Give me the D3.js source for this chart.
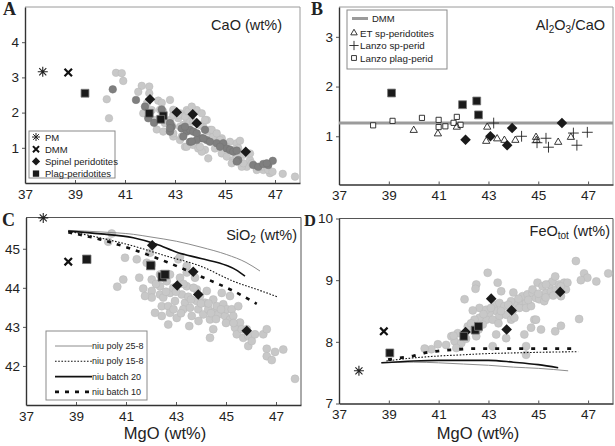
<!DOCTYPE html>
<html>
<head>
<meta charset="utf-8">
<script src="https://cdn.jsdelivr.net/npm/d3@7"></script>
<style>
  body { margin: 0; background: #fff; }
  svg text { font-family: Arial, "Liberation Sans", sans-serif; fill: #222; }
</style>
</head>
<body>
<div id="chart"></div>
<script>
//tick labels
const mgoTicks = [37, 39, 41, 43, 45, 47];
const caoTicks = [1, 2, 3, 4];
const ratioTicks = [1, 2, 3];
const sio2Ticks = [42, 43, 44, 45];
const feoTicks = [7, 8, 9, 10];

//A: CaO vs MgO  [MgO, CaO]
const caoLight = [[40.64,3.13],[40.87,3.12],[40.93,2.90],[40.27,2.38],[40.36,1.84],[41.67,2.76],[41.97,2.74],[41.53,2.59],[41.97,2.55],[41.87,2.26],[42.33,2.34],[42.47,2.28],[42.80,2.36],[41.73,1.98],[42.07,2.07],[42.20,1.79],[42.27,1.52],[42.60,1.70],[42.80,1.79],[42.93,1.93],[43.20,1.98],[42.53,1.46],[42.93,1.32],[43.47,2.07],[43.60,1.98],[43.87,2.07],[44.07,1.98],[43.47,1.84],[43.13,1.84],[43.60,1.74],[43.33,1.65],[44.27,1.79],[44.13,1.60],[44.40,1.51],[44.53,1.36],[43.20,1.22],[43.40,1.03],[43.73,1.08],[43.93,0.98],[44.20,0.94],[44.33,0.70],[44.07,0.89],[44.67,1.22],[44.87,1.27],[45.00,1.08],[45.20,1.17],[45.47,1.13],[45.60,1.20],[44.60,0.98],[44.87,0.84],[45.07,0.75],[45.33,0.65],[45.53,0.61],[45.27,0.56],[45.73,0.80],[46.00,0.65],[45.87,0.46],[45.67,0.46],[46.27,0.37],[46.53,0.37],[46.80,0.28],[46.47,0.46],[47.31,0.26],[47.80,0.18],[42.40,2.08],[42.53,2.03],[42.87,1.65],[42.93,1.41],[43.20,1.60],[43.27,1.32],[43.40,1.89],[43.53,2.03],[43.73,1.74],[44.00,1.65],[44.20,1.79],[44.33,1.46],[44.53,1.32],[44.80,1.22],[45.33,0.94],[45.53,0.99],[46.00,0.84],[46.07,0.56],[46.73,0.37],[43.47,1.03],[44.00,1.03],[42.93,2.08],[43.13,1.93],[43.67,2.17],[44.47,1.51],[44.67,1.41],[45.07,1.03],[45.47,0.75],[45.73,0.56],[46.90,0.32]];
const caoDark = [[40.51,2.66],[41.44,2.36],[41.80,2.17],[42.47,2.09],[42.16,1.71],[42.87,1.60],[42.80,1.46],[43.27,1.55],[43.47,1.46],[43.60,1.51],[43.73,1.46],[43.87,1.41],[44.20,1.51],[44.07,1.27],[43.87,1.22],[43.60,1.17],[43.33,1.32],[44.27,1.22],[44.40,1.17],[44.67,1.13],[44.93,1.13],[45.07,0.98],[45.20,0.94],[45.33,0.89],[45.47,0.92],[45.53,0.65],[46.13,0.51],[46.33,0.46],[46.53,0.54],[46.73,0.51],[46.91,0.63],[41.93,1.84],[42.80,1.70],[42.80,1.56],[43.40,1.60],[43.67,1.18],[44.13,1.27],[44.80,1.03],[45.47,0.61],[46.67,0.56]];
const caoSpinel = [[42.00,2.38],[43.07,2.01],[43.71,1.95],[43.87,1.70],[45.83,0.89]];
const caoPlag = [[39.40,2.55],[41.97,1.98],[42.53,1.91],[42.43,1.81]];
const caoPM = [[37.71,3.16]];
const caoDMM = [[38.73,3.14]];

//B: Al2O3/CaO vs MgO
const ratioDMM = 1.266;
const ratioPlag = [[39.11,1.87],[41.96,1.635],[42.53,1.71],[42.60,1.43]];
const ratioSpinel = [[42.08,0.93],[43.08,1.00],[43.75,0.82],[43.95,1.165],[45.95,1.266]];
const ratioLanzoPlag = [[38.37,1.22],[39.15,1.31],[40.33,1.37],[41.00,1.33],[41.00,1.185],[41.27,1.20],[41.60,1.27],[41.73,1.39],[41.88,1.23]];
const ratioET = [[40.00,1.12],[40.97,1.05],[41.73,1.185],[42.95,1.185],[42.91,0.90],[43.35,0.95],[43.64,0.92],[44.08,0.92],[44.91,0.98],[44.93,0.92],[45.80,0.88],[46.31,0.98]];
const ratioLanzoSp = [[43.21,1.266],[44.33,1.00],[44.95,0.87],[45.31,0.96],[45.41,0.78],[46.41,1.065],[46.55,0.82],[46.97,1.08]];

//C: SiO2 vs MgO
const sio2Light = [[40.43,45.39],[40.29,45.18],[40.96,44.77],[40.65,44.03],[40.89,44.21],[41.53,44.26],[41.69,43.98],[41.96,44.90],[42.03,44.60],[42.03,44.21],[42.03,43.92],[42.03,43.75],[42.36,44.34],[42.36,44.04],[42.36,43.83],[42.43,43.53],[42.43,43.28],[42.49,43.75],[42.63,44.17],[42.76,44.34],[42.76,43.87],[42.69,43.53],[42.76,43.36],[42.69,43.06],[42.89,44.00],[42.96,43.66],[43.09,44.73],[43.03,43.23],[43.16,44.26],[43.23,43.83],[43.36,43.62],[43.29,43.45],[43.43,44.04],[43.43,44.39],[43.49,43.77],[43.56,43.49],[43.63,43.28],[43.53,43.02],[43.76,44.26],[43.83,43.96],[43.83,43.66],[43.89,43.45],[43.96,43.79],[44.09,43.32],[44.16,43.62],[44.23,43.92],[44.29,43.45],[44.36,43.19],[44.49,43.70],[44.56,43.40],[44.63,43.53],[44.69,43.32],[44.83,43.87],[44.89,43.58],[44.96,43.28],[45.03,43.45],[45.16,43.19],[45.23,43.45],[45.29,43.28],[45.36,42.98],[45.43,42.81],[45.49,43.53],[45.56,43.11],[45.63,42.94],[45.69,42.72],[45.83,42.94],[45.89,42.77],[45.89,42.51],[46.03,42.64],[46.16,42.81],[46.49,42.81],[46.63,42.94],[46.63,42.44],[46.63,42.25],[46.83,42.15],[46.96,42.36],[47.29,42.42],[47.76,41.67],[44.49,42.94],[44.36,42.72],[45.16,43.79],[41.76,43.79],[42.16,43.36],[41.83,44.64],[41.43,44.73],[43.16,44.79],[43.43,44.56],[42.20,44.10],[42.60,43.90],[43.00,43.90],[43.30,44.10],[43.60,43.70],[43.70,44.00],[44.00,43.60],[44.30,43.60],[44.40,43.35],[44.80,43.45],[45.00,43.10],[45.30,43.10],[43.20,43.35],[42.90,43.45],[43.90,43.15],[44.60,43.20]];
const sio2Spinel = [[42.05,45.09],[43.05,44.06],[43.69,44.41],[43.89,43.83],[45.83,42.90]];
const sio2Plag = [[39.43,44.73],[41.99,44.57],[42.45,44.28],[42.56,44.34]];
const sio2PM = [[37.69,45.79]];
const sio2DMM = [[38.69,44.67]];
const sio2Poly25 = [[38.69,45.47],[40.00,45.43],[41.29,45.37],[42.00,45.30],[43.03,45.19],[44.00,45.04],[45.03,44.85],[45.80,44.65],[46.36,44.43]];
const sio2Poly15 = [[38.69,45.45],[39.96,45.28],[41.29,45.07],[42.63,44.81],[43.96,44.56],[45.29,44.17],[46.63,43.87],[47.09,43.76]];
const sio2Batch20 = [[38.69,45.45],[40.00,45.38],[41.29,45.28],[42.20,45.12],[43.03,44.91],[44.00,44.75],[45.03,44.57],[45.40,44.46],[45.76,44.30]];
const sio2Batch10 = [[38.69,45.42],[39.96,45.24],[41.29,44.98],[42.63,44.66],[43.96,44.30],[45.29,43.92],[46.23,43.59]];

//D: FeOtot vs MgO
const feoLight = [[42.04,8.69],[43.24,8.60],[43.44,8.63],[43.64,8.58],[43.31,8.50],[43.04,8.47],[42.64,8.55],[42.37,8.51],[42.91,8.36],[42.64,8.39],[42.44,8.36],[42.77,8.28],[43.17,8.36],[43.44,8.42],[43.71,8.44],[43.97,8.50],[44.11,8.63],[44.31,8.66],[44.51,8.63],[44.37,8.74],[44.57,8.77],[44.77,8.79],[44.91,8.71],[44.77,8.85],[45.04,8.69],[45.24,8.66],[45.31,8.79],[45.51,8.82],[45.71,8.85],[45.44,8.93],[45.57,8.98],[45.84,8.93],[46.04,8.96],[46.11,8.85],[45.91,8.74],[44.24,8.55],[43.91,8.36],[44.04,8.39],[44.51,8.55],[44.71,8.58],[44.84,8.36],[44.71,8.23],[45.11,8.20],[45.68,8.17],[45.91,8.26],[46.64,8.37],[43.31,8.12],[43.71,8.06],[44.44,8.12],[44.51,7.93],[44.51,7.79],[43.17,7.93],[42.37,8.20],[42.51,8.09],[41.77,8.14],[41.64,8.01],[41.91,7.98],[41.71,7.90],[40.97,7.96],[40.71,7.88],[40.44,7.89],[41.51,8.09],[42.17,8.25],[42.91,8.52],[43.91,8.66],[44.97,8.96],[45.17,8.90],[45.31,8.93],[46.17,8.96],[46.84,9.11],[46.97,9.04],[46.71,9.00],[47.81,9.11],[47.33,8.98],[46.51,9.31],[42.97,9.12],[42.51,8.93],[42.48,8.86],[43.37,8.96],[43.51,8.82],[45.68,9.06],[42.80,8.45],[43.10,8.55],[43.50,8.50],[43.80,8.60],[44.20,8.70],[44.60,8.68],[45.00,8.78],[45.30,8.72],[45.60,8.75],[45.90,8.90],[44.00,8.80],[43.40,8.30],[42.60,8.20],[42.30,8.30],[42.10,8.05],[41.30,7.95],[41.60,8.10],[44.91,8.36]];
const feoSpinel = [[43.11,8.70],[43.93,8.51],[42.08,8.16],[43.73,8.20],[45.88,8.81]];
const feoPlag = [[39.04,7.82],[42.01,8.09],[42.47,8.19],[42.60,8.25]];
const feoPM = [[37.80,7.53]];
const feoDMM = [[38.80,8.17]];
const feoPoly25 = [[38.70,7.66],[40.00,7.67],[41.00,7.66],[42.00,7.64],[43.00,7.62],[44.00,7.59],[45.00,7.57],[46.20,7.53]];
const feoPoly15 = [[38.90,7.69],[40.00,7.74],[41.00,7.77],[42.00,7.79],[43.00,7.81],[44.00,7.82],[45.00,7.83],[46.60,7.84]];
const feoBatch20 = [[38.70,7.66],[40.00,7.69],[41.00,7.70],[42.00,7.70],[43.00,7.70],[44.00,7.67],[45.00,7.63],[45.80,7.58]];
const feoBatch10 = [[38.97,7.71],[39.44,7.74],[39.97,7.77],[40.44,7.82],[40.97,7.85],[41.50,7.87],[42.50,7.89],[43.50,7.89],[44.50,7.89],[45.50,7.89],[46.50,7.89]];

const lightGray = "#c8c8c8", darkGray = "#7f7f7f", ink = "#1a1a1a";

const svg = d3.select("#chart").append("svg")
    .attr("width", 615).attr("height", 446);

//Build one panel frame + axes
function makePanel(cfg) {
    const x = d3.scaleLinear().domain([37, 48]).range([cfg.left, cfg.right]);
    const y = d3.scaleLinear().domain(cfg.yDomain).range([cfg.bottom, cfg.top]);
    const g = svg.append("g");
    //top and right frame
    g.append("path")
        .attr("d", `M${cfg.left},${cfg.top}H${cfg.right}V${cfg.bottom}`)
        .attr("fill", "none").attr("stroke", cfg.frameColor).attr("stroke-width", 1);
    const xa = g.append("g")
        .attr("transform", `translate(0,${cfg.bottom})`)
        .call(d3.axisBottom(x).tickValues(mgoTicks).tickFormat(d3.format("d"))
            .tickSizeInner(-3).tickSizeOuter(0).tickPadding(6));
    const ya = g.append("g")
        .attr("transform", `translate(${cfg.left},0)`)
        .call(d3.axisLeft(y).tickValues(cfg.yTicks).tickFormat(d3.format("d"))
            .tickSizeInner(3).tickSizeOuter(0).tickPadding(3));
    [xa, ya].forEach(a => {
        a.select(".domain").attr("stroke", "#333").attr("stroke-width", 1.4);
        a.selectAll(".tick line").attr("stroke", "#555");
        a.selectAll("text").style("font-size", "13.5px").attr("fill", "#222");
    });
    //panel letter
    svg.append("text").attr("x", cfg.letterX).attr("y", cfg.letterY)
        .style("font-family", "'Liberation Serif','Times New Roman',serif")
        .style("font-weight", "bold").style("font-size", cfg.letterSize || "18px").text(cfg.letter);
    return {x, y, g};
}

function starPath(r) {
    let p = "";
    for (let k = 0; k < 4; k++) {
        const a = k * Math.PI / 4;
        p += `M${-r * Math.cos(a)},${-r * Math.sin(a)}L${r * Math.cos(a)},${r * Math.sin(a)}`;
    }
    return p;
}

function circles(P, data, fill, r) {
    P.g.selectAll(null).data(data).enter().append("circle")
        .attr("cx", d => P.x(d[0])).attr("cy", d => P.y(d[1])).attr("r", r)
        .attr("fill", fill).attr("stroke", fill === lightGray ? "#b9b9b9" : "#727272").attr("stroke-width", 0.5);
}

function symbols(P, data, type, size, opts) {
    P.g.selectAll(null).data(data).enter().append("path")
        .attr("d", type === "star" ? starPath(size) : d3.symbol(type, size)())
        .attr("transform", d => `translate(${P.x(d[0])},${P.y(d[1])})` + (opts.rotate ? ` rotate(${opts.rotate})` : ""))
        .attr("fill", opts.fill || "none")
        .attr("stroke", opts.stroke || "none")
        .attr("stroke-width", opts.sw || 1);
}

function modelLine(P, data, style) {
    P.g.append("path").datum(data)
        .attr("d", d3.line().x(d => P.x(d[0])).y(d => P.y(d[1])).curve(d3.curveMonotoneX))
        .attr("fill", "none").attr("stroke", style.color)
        .attr("stroke-width", style.width).attr("stroke-dasharray", style.dash || null);
}

const diamond = (P, data) => symbols(P, data, d3.symbolSquare, 56, {fill: ink, rotate: 45});
const plagSq = (P, data, s) => symbols(P, data, d3.symbolSquare, s, {fill: ink, stroke: "#777", sw: 0.8});
const pmStar = (P, data) => symbols(P, data, "star", 5, {stroke: "#222", sw: 1.1});
const dmmX = (P, data) => symbols(P, data, d3.symbolTimes, 38, {stroke: "#111", sw: 2.2});

const styles = {
    poly25: {color: "#8c8c8c", width: 1},
    poly15: {color: "#111", width: 1.1, dash: "1.6,1.6"},
    batch20: {color: "#111", width: 1.6},
    batch10: {color: "#111", width: 2.6, dash: "4,6"}
};

//---- Panel A
const A = makePanel({left: 25, right: 300, top: 7, bottom: 183, yDomain: [0, 5], yTicks: caoTicks,
    frameColor: "#9a9a9a", letter: "A", letterX: 3, letterY: 15});
circles(A, caoLight, lightGray, 3.8);
circles(A, caoDark, darkGray, 3.8);
diamond(A, caoSpinel);
plagSq(A, caoPlag, 62);
pmStar(A, caoPM);
dmmX(A, caoDMM);
A.g.append("text").attr("x", 282).attr("y", 30).attr("text-anchor", "end")
    .style("font-size", "14.5px").text("CaO (wt%)");

//legend A
const legA = A.g.append("g");
legA.append("rect").attr("x", 29).attr("y", 131).attr("width", 86).attr("height", 47)
    .attr("fill", "#fff").attr("stroke", "#8a8a8a").attr("stroke-width", 1);
const legAItems = [["PM", "star"], ["DMM", "x"], ["Spinel peridotites", "dia"], ["Plag-peridotites", "sq"]];
legAItems.forEach((it, i) => {
    const yy = 137 + i * 12.2;
    const sym = legA.append("path").attr("transform", `translate(36,${yy})` + (it[1] === "dia" ? " rotate(45)" : ""));
    if (it[1] === "star") sym.attr("d", starPath(4)).attr("stroke", "#222").attr("fill", "none");
    if (it[1] === "x") sym.attr("d", d3.symbol(d3.symbolTimes, 26)()).attr("stroke", "#111").attr("stroke-width", 2).attr("fill", "none");
    if (it[1] === "dia") sym.attr("d", d3.symbol(d3.symbolSquare, 34)()).attr("fill", ink);
    if (it[1] === "sq") sym.attr("d", d3.symbol(d3.symbolSquare, 40)()).attr("fill", ink);
    legA.append("text").attr("x", 45).attr("y", yy + 3.5).style("font-size", "9.5px").text(it[0]);
});

//---- Panel B
const B = makePanel({left: 339, right: 613, top: 7, bottom: 184.5, yDomain: [0.03, 3.6], yTicks: ratioTicks,
    frameColor: "#9a9a9a", letter: "B", letterX: 311, letterY: 15});
B.g.append("line").attr("x1", B.x(37)).attr("x2", B.x(48))
    .attr("y1", B.y(ratioDMM)).attr("y2", B.y(ratioDMM))
    .attr("stroke", "#9b9b9b").attr("stroke-width", 3);
symbols(B, ratioLanzoPlag, d3.symbolSquare2, 34, {fill: "#fff", stroke: "#222", sw: 0.9});
symbols(B, ratioET, d3.symbolTriangle2, 38, {stroke: "#222", sw: 0.9});
symbols(B, ratioLanzoSp, d3.symbolPlus, 40, {stroke: "#222", sw: 0.9});
diamond(B, ratioSpinel);
plagSq(B, ratioPlag, 62);
const titleB = B.g.append("text").attr("x", 605).attr("y", 30).attr("text-anchor", "end").style("font-size", "14.5px");
titleB.append("tspan").text("Al");
titleB.append("tspan").attr("dy", 3).style("font-size", "10px").text("2");
titleB.append("tspan").attr("dy", -3).text("O");
titleB.append("tspan").attr("dy", 3).style("font-size", "10px").text("3");
titleB.append("tspan").attr("dy", -3).text("/CaO");

//legend B
const legB = B.g.append("g");
legB.append("rect").attr("x", 347).attr("y", 10).attr("width", 100).attr("height", 59)
    .attr("fill", "#fff").attr("stroke", "#8a8a8a").attr("stroke-width", 1);
legB.append("line").attr("x1", 352).attr("x2", 368).attr("y1", 18.5).attr("y2", 18.5)
    .attr("stroke", "#9b9b9b").attr("stroke-width", 3);
legB.append("text").attr("x", 372).attr("y", 22).style("font-size", "9.5px").text("DMM");
const legBItems = [["ET sp-peridotites", d3.symbolTriangle2], ["Lanzo sp-perid", d3.symbolPlus], ["Lanzo plag-perid", d3.symbolSquare2]];
legBItems.forEach((it, i) => {
    const yy = 33 + i * 12.5;
    legB.append("path").attr("transform", `translate(354,${yy})`)
        .attr("d", d3.symbol(it[1], 30)()).attr("fill", "none").attr("stroke", "#222").attr("stroke-width", 0.9);
    legB.append("text").attr("x", 360).attr("y", yy + 3.5).style("font-size", "9.8px").text(it[0]);
});

//---- Panel C
const C = makePanel({left: 26, right: 301, top: 217.5, bottom: 405, yDomain: [41, 45.8], yTicks: sio2Ticks,
    frameColor: "#555", letter: "C", letterX: 2, letterY: 226});
circles(C, sio2Light, lightGray, 4);
modelLine(C, sio2Poly25, styles.poly25);
modelLine(C, sio2Poly15, styles.poly15);
modelLine(C, sio2Batch20, styles.batch20);
modelLine(C, sio2Batch10, styles.batch10);
diamond(C, sio2Spinel);
plagSq(C, sio2Plag, 72);
pmStar(C, sio2PM);
dmmX(C, sio2DMM);
const titleC = C.g.append("text").attr("x", 297).attr("y", 240).attr("text-anchor", "end").style("font-size", "14.5px");
titleC.append("tspan").text("SiO");
titleC.append("tspan").attr("dy", 3).style("font-size", "10px").text("2");
titleC.append("tspan").attr("dy", -3).text(" (wt%)");

//legend C
const legC = C.g.append("g");
legC.append("rect").attr("x", 46).attr("y", 331).attr("width", 101).attr("height", 69)
    .attr("fill", "#fff").attr("stroke", "#8a8a8a").attr("stroke-width", 1);
const legCItems = [["niu poly 25-8", styles.poly25], ["niu poly 15-8", styles.poly15], ["niu batch 20", styles.batch20], ["niu batch 10", styles.batch10]];
legCItems.forEach((it, i) => {
    const yy = 346 + i * 15.3;
    legC.append("line").attr("x1", 55).attr("x2", 92).attr("y1", yy).attr("y2", yy)
        .attr("stroke", it[1].color).attr("stroke-width", it[1].width).attr("stroke-dasharray", it[1].dash || null);
    legC.append("text").attr("x", 92).attr("y", yy + 3).style("font-size", "9px").text(it[0]);
});
svg.append("text").attr("x", 165).attr("y", 439).attr("text-anchor", "middle")
    .style("font-size", "16.5px").text("MgO (wt%)");

//---- Panel D
const D = makePanel({left: 339, right: 613, top: 218.5, bottom: 403.5, yDomain: [7, 10], yTicks: feoTicks,
    frameColor: "#555", letter: "D", letterX: 304, letterY: 226, letterSize: "16.5px"});
circles(D, feoLight, lightGray, 4);
modelLine(D, feoPoly25, styles.poly25);
modelLine(D, feoPoly15, styles.poly15);
modelLine(D, feoBatch20, styles.batch20);
modelLine(D, feoBatch10, {color: "#111", width: 2.8, dash: "4,8"});
diamond(D, feoSpinel);
plagSq(D, feoPlag, 62);
pmStar(D, feoPM);
dmmX(D, feoDMM);
const titleD = D.g.append("text").attr("x", 610).attr("y", 236).attr("text-anchor", "end").style("font-size", "14.5px");
titleD.append("tspan").text("FeO");
titleD.append("tspan").attr("dy", 3).style("font-size", "10px").text("tot");
titleD.append("tspan").attr("dy", -3).text(" (wt%)");
svg.append("text").attr("x", 478).attr("y", 439).attr("text-anchor", "middle")
    .style("font-size", "16.5px").text("MgO (wt%)");
</script>
</body>
</html>
